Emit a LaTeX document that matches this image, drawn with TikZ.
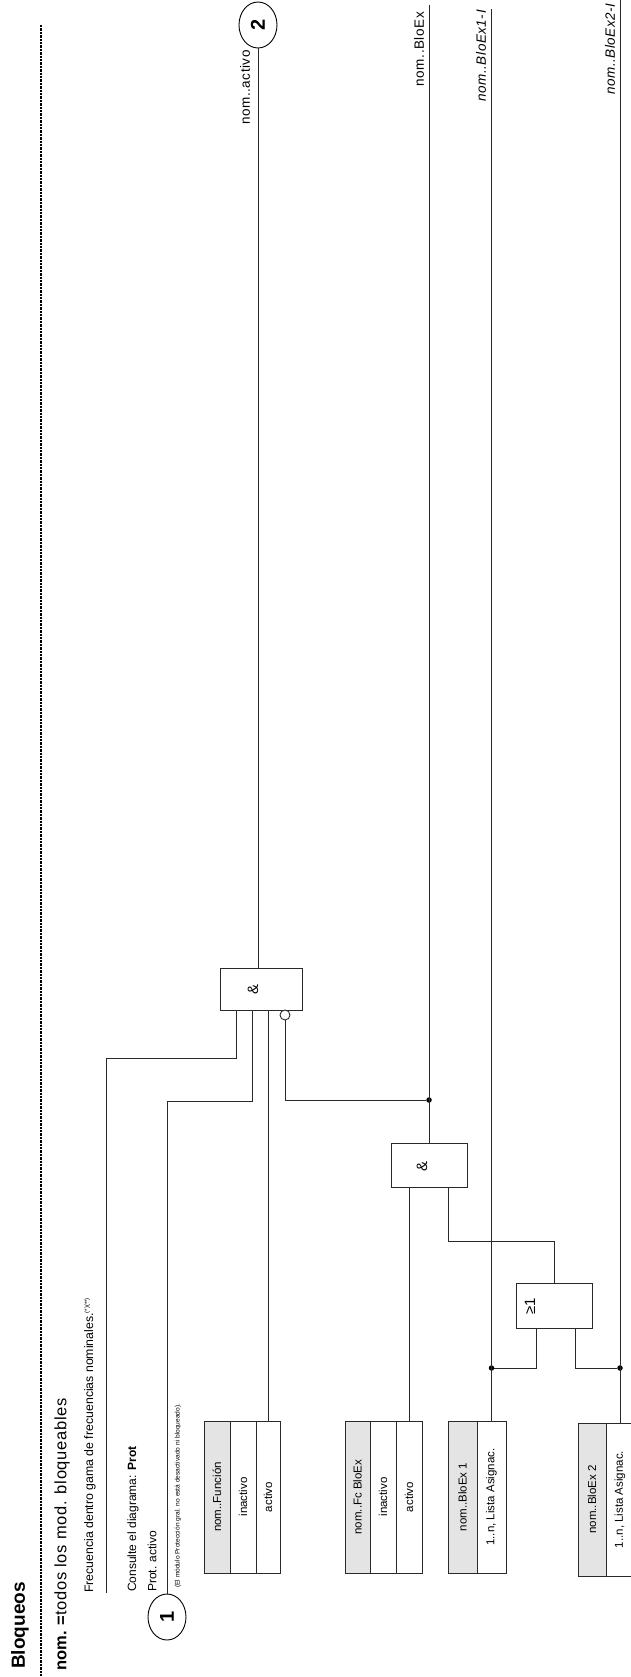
\documentclass[tikz,border=0pt]{standalone}
\usepackage{fontspec}
\setmainfont{Liberation Sans}
\newfontfamily\lsp[LetterSpace=4]{Liberation Sans}
\usetikzlibrary{shapes.geometric}
\definecolor{hdrgray}{HTML}{E4E4E4}
\definecolor{wirec}{HTML}{2A2A2A}
\begin{document}
\begin{tikzpicture}[x=1pt,y=-1pt,
  wire/.style={draw=wirec, line width=1pt},
  gate/.style={draw=wirec, line width=1pt, fill=white, inner sep=0pt},
  cellbox/.style={draw=wirec, line width=1pt, rotate=90, inner sep=0pt, minimum width=152pt, font=\fontsize{11.5}{12}\selectfont},
  hdrbox/.style={cellbox, fill=hdrgray},
  rlbl/.style={rotate=90, inner sep=0pt},
  jdot/.style={circle, fill=black, inner sep=0pt, minimum size=5.5pt},
  marker/.style={ellipse, draw=black, line width=0.9pt, rotate=90, minimum width=46pt, minimum height=38pt, inner sep=0pt, font=\fontsize{20}{20}\bfseries\selectfont},
  symb/.style={rotate=90, inner sep=0pt, font=\fontsize{15}{15}\selectfont}]
\useasboundingbox (0,0) rectangle (631,1677);

% dashed frame line
\coordinate (dtop) at (41,25);
\coordinate (dbot) at (41,1677);
\draw[line width=2.6pt, dash pattern=on 2.4pt off 1pt] (dtop) -- (dbot);

% header texts
\node[rlbl, anchor=west, font=\fontsize{19}{20}\bfseries\selectfont] (ttl) at (20,1669) {Bloqueos};
\node[rlbl, anchor=west, font=\fontsize{16.5}{17}\selectfont] (sub) at (62,1671) {\textbf{nom. =}{\lsp todos los mod. bloqueables}};
\node[rlbl, anchor=west, font=\fontsize{12.3}{13}\selectfont] (frqt) at (90,1593) {Frecuencia dentro gama de frecuencias nominales.\textsuperscript{\fontsize{6}{6}\selectfont(*)(**)}};
\node[rlbl, anchor=west, font=\fontsize{12}{13}\selectfont] (cons) at (133,1592) {Consulte el diagrama: \textbf{Prot}};
\node[rlbl, anchor=west, font=\fontsize{12}{13}\selectfont] (prot) at (152,1592) {Prot. activo};
\node[rlbl, anchor=west, font=\fontsize{6.6}{7}\selectfont] (small) at (178,1588) {(El módulo Protección gral. no está desactivado ni bloqueado).};

% markers
\node[marker] (c1) at (167,1617) {1};
\node[marker] (c2) at (258,25) {2};

% gates
\node[gate, minimum width=82pt, minimum height=42pt] (and1) at (261,989) {};
\node[symb] (and1s) at (253,989) {\&};
\node[gate, minimum width=76pt, minimum height=44pt] (and2) at (429,1165) {};
\node[symb] (and2s) at (422,1166) {\&};
\node[gate, minimum width=76pt, minimum height=45pt] (or) at (554,1305.5) {};
\node[symb] (ors) at (530,1306) {≥1};
\node[circle, draw=wirec, line width=0.9pt, fill=white, minimum size=10pt, inner sep=0pt] (neg) at (285,1015) {};

% setting boxes
\node[hdrbox, minimum height=26pt] (fn0) at (217,1497) {nom..Función};
\node[cellbox, minimum height=26pt] (fn1) at (243,1497) {inactivo};
\node[cellbox, minimum height=24pt] (fn2) at (268,1497) {activo};

\node[hdrbox, minimum height=25pt] (fb0) at (357.5,1497) {nom..Fc BloEx};
\node[cellbox, minimum height=26pt] (fb1) at (383,1497) {inactivo};
\node[cellbox, minimum height=26pt] (fb2) at (409,1497) {activo};

\node[hdrbox, minimum height=29pt] (b10) at (462.5,1497) {nom..BloEx 1};
\node[cellbox, minimum height=29pt] (b11) at (491.5,1497) {1..n, Lista Asignac.};

\node[hdrbox, minimum height=28pt, minimum width=153pt] (b20) at (592,1499.5) {nom..BloEx 2};
\node[cellbox, minimum height=28pt, minimum width=153pt] (b21) at (620,1499.5) {1..n, Lista Asignac.};

% coordinates
\coordinate (frq) at (106,1593);
\coordinate (bend1) at (236,1058);
\coordinate (a1i1) at (236,1010);
\coordinate (bend2) at (252,1101);
\coordinate (a1i2) at (252,1010);
\coordinate (a1i3) at (268,1010);
\coordinate (a2i1) at (409,1187);
\coordinate (bend3) at (448,1241);
\coordinate (a2i2) at (448,1187);
\coordinate (oi1) at (536,1328);
\coordinate (oi2) at (575,1328);
\coordinate (t1) at (429,5);
\coordinate (t2) at (491.5,9);
\coordinate (t3) at (620,0);

% junctions
\node[jdot] (j1) at (429,1100) {};
\node[jdot] (j2) at (491.5,1368) {};
\node[jdot] (j3) at (620,1368) {};

% wires
\draw[wire] (frq) |- (bend1) -- (a1i1);
\draw[wire] (c1.east) |- (bend2) -- (a1i2);
\draw[wire] (fn2.east) -- (a1i3);
\draw[wire] (neg.south) |- (j1);
\draw[wire] (c2.west) -- (c2.west |- and1.north);
\draw[wire] (t1) -- (and2.north);
\draw[wire] (fb2.east) -- (a2i1);
\draw[wire] (or.north) |- (bend3) -- (a2i2);
\draw[wire] (t2) -- (b11.east);
\draw[wire] (oi1) |- (j2);
\draw[wire] (oi2) |- (j3);
\draw[wire] (t3) -- (b21.east);

% output labels
\node[rlbl, anchor=east, font=\fontsize{13.5}{14}\lsp] (lact) at (245,50) {nom..activo};
\node[rlbl, anchor=east, font=\fontsize{13.5}{14}\lsp] (lbx) at (419,12) {nom..BloEx};
\node[rlbl, anchor=east, font=\fontsize{13.5}{14}\lsp\itshape] (lb1) at (481,10) {nom..BloEx1-I};
\node[rlbl, anchor=west, font=\fontsize{13.5}{14}\lsp\itshape] (lb2) at (610,95) {nom..BloEx2-I};
\end{tikzpicture}
\end{document}
